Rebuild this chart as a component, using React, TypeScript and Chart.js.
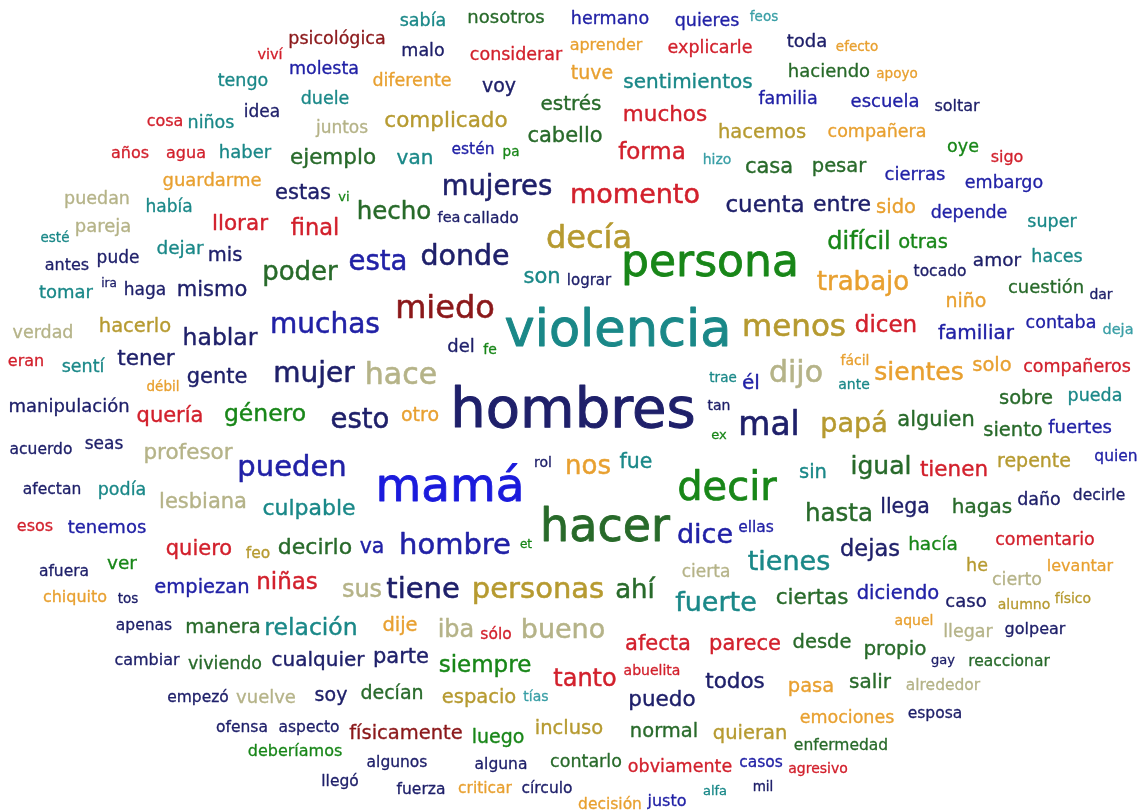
import React, { useEffect, useRef } from "react";
import { Chart, registerables } from "chart.js";

Chart.register(...registerables);

// [word, weight (font px), x, y] in a 1143 x 811 data space
type W = [string, number, number, number];

const navyWords: W[] = [
  ["idea", 17, 262, 112], ["malo", 17.5, 423, 51], ["voy", 19, 499, 86], ["toda", 18, 807, 42],
  ["soltar", 16, 957, 106], ["estas", 21, 303, 193], ["fea", 14.5, 449, 218], ["callado", 15.5, 491, 218],
  ["cuenta", 23, 765, 205], ["entre", 22, 842, 204], ["antes", 16, 67, 265], ["pude", 17, 118, 258],
  ["mis", 19.5, 225, 255], ["donde", 28.5, 465, 256], ["lograr", 15, 589, 280], ["tocado", 15.5, 940, 271],
  ["amor", 18.5, 997, 260], ["dar", 14, 1101, 295], ["haga", 17, 145, 290], ["ira", 12, 109, 283],
  ["mismo", 21, 212, 290], ["hablar", 23.5, 220, 338], ["tener", 21.5, 146, 359], ["gente", 21, 217, 377],
  ["mujer", 28, 314, 374], ["del", 18, 461, 347], ["manipulación", 18, 69, 407], ["esto", 27.5, 360, 420],
  ["hombres", 56, 573, 410], ["acuerdo", 15.5, 41, 449], ["seas", 17, 104, 444], ["afectan", 15.5, 52, 489],
  ["tan", 14, 719, 406], ["mal", 33, 769, 425], ["rol", 14, 543, 463], ["llega", 20.5, 905, 507],
  ["daño", 17.5, 1039, 500], ["decirle", 15.5, 1099, 495], ["dejas", 22.5, 870, 549], ["tiene", 29, 423, 589],
  ["caso", 18, 966, 602], ["golpear", 16, 1035, 629], ["gay", 13, 943, 660], ["esposa", 15.5, 935, 713],
  ["cualquier", 20, 318, 660], ["parte", 21, 401, 657], ["soy", 19, 331, 695], ["todos", 21.5, 735, 682],
  ["puedo", 21.5, 662, 700], ["aspecto", 15.5, 309, 727], ["algunos", 15.5, 397, 762], ["alguna", 15.5, 501, 764],
  ["llegó", 15.5, 340, 781], ["fuerza", 15.5, 421, 789], ["círculo", 15.5, 547, 788], ["mil", 13.5, 763, 787],
  ["afuera", 15.5, 64, 571], ["tos", 13.5, 128, 599], ["apenas", 15.5, 144, 625], ["cambiar", 16, 147, 660],
  ["empezó", 15.5, 198, 697], ["ofensa", 15.5, 242, 727], ["mujeres", 27.5, 497, 187],
];

const blueWords: W[] = [
  ["hermano", 17.5, 610, 19], ["quieres", 17.5, 707, 21], ["molesta", 17.5, 324, 69], ["familia", 17.5, 788, 99],
  ["escuela", 18, 885, 102], ["estén", 15.5, 473, 149], ["cierras", 18, 915, 175], ["embargo", 17.5, 1004, 183],
  ["depende", 17.5, 969, 213], ["esta", 27.5, 378, 262], ["muchas", 28, 325, 325], ["pueden", 29, 292, 467],
  ["dice", 27, 705, 535], ["ellas", 15.5, 756, 527], ["él", 20, 751, 383], ["familiar", 20, 976, 333],
  ["contaba", 17.5, 1061, 323], ["fuertes", 18, 1080, 428], ["quien", 15.5, 1116, 456], ["diciendo", 19.5, 898, 593],
  ["hombre", 29, 455, 545], ["va", 20.5, 372, 547], ["empiezan", 19.5, 202, 587], ["casos", 15.5, 761, 762],
  ["tenemos", 18, 107, 528], ["justo", 16, 667, 801],
];

const brightBlueWords: W[] = [["mamá", 47, 450, 487]];

const tealWords: W[] = [
  ["sabía", 17.5, 423, 21], ["tengo", 17.5, 243, 81], ["sentimientos", 20, 688, 82], ["niños", 17.5, 211, 123],
  ["duele", 17.5, 325, 99], ["haber", 18, 245, 153], ["van", 20, 415, 158], ["había", 17, 169, 207],
  ["esté", 13.5, 55, 238], ["dejar", 18.5, 180, 248], ["super", 17.5, 1052, 222], ["haces", 17.5, 1057, 257],
  ["son", 21, 542, 277], ["tomar", 18, 66, 293], ["sentí", 17.5, 83, 367], ["violencia", 51, 618, 331],
  ["podía", 17.5, 122, 490], ["culpable", 22, 309, 508], ["fue", 20.5, 636, 462], ["trae", 13.5, 723, 378],
  ["ante", 14, 854, 385], ["sin", 19.5, 813, 472], ["pueda", 17.5, 1095, 396], ["tienes", 27, 789, 562],
  ["fuerte", 27, 716, 603], ["relación", 23.5, 311, 628], ["alfa", 13, 715, 791],
];

const lightTealWords: W[] = [
  ["feos", 13.5, 764, 17], ["hizo", 14, 717, 160], ["deja", 14.5, 1118, 330], ["tías", 14, 536, 697],
];

const greenWords: W[] = [
  ["persona", 44, 710, 263], ["vi", 13, 344, 197], ["pa", 13.5, 511, 152], ["oye", 17.5, 963, 147],
  ["difícil", 24, 859, 242], ["otras", 19.5, 923, 242], ["fe", 14, 490, 350], ["género", 23.5, 265, 414],
  ["decir", 40, 727, 488], ["ex", 13, 719, 435], ["ver", 18.5, 122, 563], ["siempre", 23, 485, 665],
  ["luego", 19, 498, 737], ["deberíamos", 16, 295, 751], ["et", 12, 526, 544], ["hacía", 18.5, 933, 544],
];

const darkGreenWords: W[] = [
  ["nosotros", 18, 506, 18], ["haciendo", 18, 829, 72], ["estrés", 20, 571, 104], ["cabello", 21, 565, 136],
  ["ejemplo", 21.5, 333, 158], ["casa", 21, 769, 167], ["pesar", 19.5, 839, 166], ["hecho", 24.5, 394, 212],
  ["poder", 26, 300, 272], ["cuestión", 18, 1046, 288], ["alguien", 21, 936, 420], ["sobre", 19.5, 1026, 398],
  ["siento", 19.5, 1013, 430], ["igual", 25, 881, 466], ["hasta", 24.5, 839, 514], ["hagas", 20, 982, 507],
  ["hacer", 46, 605, 527], ["decirlo", 22, 315, 547], ["ahí", 26, 635, 590], ["ciertas", 21.5, 812, 598],
  ["desde", 19.5, 822, 642], ["propio", 20, 895, 649], ["reaccionar", 15.5, 1009, 661], ["salir", 20, 870, 682],
  ["enfermedad", 15.5, 841, 745], ["normal", 19.5, 664, 731], ["manera", 19.5, 223, 627], ["viviendo", 17.5, 225, 664],
  ["decían", 19, 392, 693], ["contarlo", 17.5, 586, 762],
];

const redWords: W[] = [
  ["viví", 14.5, 270, 55], ["considerar", 17.5, 516, 55], ["explicarle", 17.5, 710, 48], ["cosa", 16, 165, 121],
  ["años", 16, 130, 153], ["agua", 16, 186, 153], ["muchos", 21.5, 665, 115], ["forma", 23, 652, 152],
  ["sigo", 16, 1007, 157], ["llorar", 21.5, 240, 224], ["final", 22.5, 315, 228], ["momento", 27, 635, 195],
  ["dicen", 23, 886, 325], ["eran", 16, 26, 361], ["quería", 21, 170, 416], ["esos", 16, 35, 526],
  ["compañeros", 17.5, 1077, 367], ["tienen", 21.5, 954, 470], ["comentario", 17.5, 1045, 540], ["quiero", 21, 199, 549],
  ["niñas", 23, 287, 582], ["sólo", 15.5, 496, 634], ["afecta", 21, 658, 644], ["parece", 21, 745, 644],
  ["abuelita", 14, 652, 671], ["tanto", 24, 585, 679], ["obviamente", 17.5, 680, 767], ["agresivo", 14, 818, 769],
];

const maroonWords: W[] = [
  ["psicológica", 17.5, 337, 39], ["miedo", 32, 445, 308], ["físicamente", 19.5, 406, 733],
];

const orangeWords: W[] = [
  ["aprender", 16, 606, 45], ["diferente", 17.5, 412, 81], ["tuve", 19, 592, 73], ["efecto", 13.5, 857, 47],
  ["apoyo", 13.5, 897, 74], ["compañera", 17.5, 877, 132], ["guardarme", 18, 212, 181], ["sido", 19.5, 896, 207],
  ["trabajo", 26, 863, 282], ["niño", 19, 966, 301], ["otro", 19, 420, 415], ["débil", 13.5, 163, 387],
  ["sientes", 25, 919, 372], ["solo", 19.5, 992, 365], ["fácil", 14, 855, 361], ["nos", 26, 588, 466],
  ["levantar", 16, 1080, 566], ["aquel", 14, 914, 621], ["dije", 19.5, 400, 625], ["pasa", 19.5, 811, 686],
  ["emociones", 17.5, 847, 718], ["criticar", 15.5, 485, 788], ["decisión", 15.5, 610, 804], ["chiquito", 16, 75, 597],
];

const khakiWords: W[] = [
  ["complicado", 21.5, 446, 121], ["hacemos", 19.5, 762, 132], ["decía", 32, 589, 238], ["hacerlo", 19.5, 135, 326],
  ["menos", 31, 794, 327], ["papá", 27, 854, 424], ["repente", 19, 1034, 461], ["personas", 29, 538, 589],
  ["espacio", 19.5, 479, 697], ["incluso", 19.5, 569, 728], ["quieran", 19.5, 750, 733], ["he", 17.5, 977, 566],
  ["alumno", 14, 1024, 605], ["físico", 14, 1073, 599], ["feo", 15.5, 258, 553],
];

const beigeWords: W[] = [
  ["juntos", 17, 342, 128], ["puedan", 17.5, 97, 199], ["pareja", 18, 103, 227], ["verdad", 17.5, 43, 333],
  ["hace", 30, 401, 375], ["dijo", 30, 796, 373], ["profesor", 21.5, 188, 453], ["lesbiana", 21, 203, 502],
  ["sus", 24, 362, 590], ["iba", 24, 456, 630], ["bueno", 27, 563, 630], ["cierta", 17, 706, 572],
  ["cierto", 17.5, 1017, 580], ["llegar", 17.5, 968, 632], ["alrededor", 15.5, 943, 685], ["vuelve", 18, 266, 698],
];

const groups: { label: string; color: string; words: W[] }[] = [
  { label: "navy", color: "#1f206a", words: navyWords },
  { label: "blue", color: "#2121a6", words: blueWords },
  { label: "brightBlue", color: "#1b1bdc", words: brightBlueWords },
  { label: "teal", color: "#1a8888", words: tealWords },
  { label: "lightTeal", color: "#3a9fa6", words: lightTealWords },
  { label: "green", color: "#188618", words: greenWords },
  { label: "darkGreen", color: "#286a2a", words: darkGreenWords },
  { label: "red", color: "#d2202c", words: redWords },
  { label: "maroon", color: "#8b181a", words: maroonWords },
  { label: "orange", color: "#e8a030", words: orangeWords },
  { label: "khaki", color: "#b69a30", words: khakiWords },
  { label: "beige", color: "#b5b388", words: beigeWords },
];

const FONT = '"DejaVu Sans", Verdana, sans-serif';

const wordPlugin = {
  id: "wordLabels",
  afterDatasetsDraw(chart: any) {
    const ctx = chart.ctx as CanvasRenderingContext2D;
    const xs = chart.scales.x;
    const ys = chart.scales.y;
    ctx.save();
    ctx.textAlign = "center";
    ctx.textBaseline = "alphabetic";
    ctx.lineJoin = "round";
    chart.data.datasets.forEach((ds: any) => {
      ctx.fillStyle = ds.wordColor;
      ctx.strokeStyle = ds.wordColor;
      ds.data.forEach((p: any) => {
        const px = xs.getPixelForValue(p.x);
        const py = ys.getPixelForValue(p.y) + p.s * 0.3;
        ctx.font = `${p.s}px ${FONT}`;
        ctx.lineWidth = Math.max(0.3, p.s * 0.018);
        ctx.fillText(p.t, px, py);
        ctx.strokeText(p.t, px, py);
      });
    });
    ctx.restore();
  },
};

export default function App() {
  const ref = useRef<HTMLCanvasElement | null>(null);
  useEffect(() => {
    if (!ref.current) return;
    const datasets = groups.map((g) => ({
      label: g.label,
      wordColor: g.color,
      data: g.words.map(([t, s, x, y]) => ({ x, y, t, s })),
      pointRadius: 0,
      pointHoverRadius: 0,
      showLine: false,
    }));
    const chart = new Chart(ref.current, {
      type: "scatter",
      data: { datasets } as any,
      options: {
        animation: false,
        responsive: true,
        maintainAspectRatio: false,
        events: [],
        layout: { padding: 0 },
        plugins: { legend: { display: false }, tooltip: { enabled: false } },
        scales: {
          x: { type: "linear", min: 0, max: 1143, display: false },
          y: { type: "linear", min: 0, max: 811, reverse: true, display: false },
        },
      },
      plugins: [wordPlugin],
    });
    return () => chart.destroy();
  }, []);
  return (
    <div style={{ position: "fixed", left: 0, top: 0, width: 1143, height: 811, background: "#fff" }}>
      <canvas ref={ref} />
    </div>
  );
}
